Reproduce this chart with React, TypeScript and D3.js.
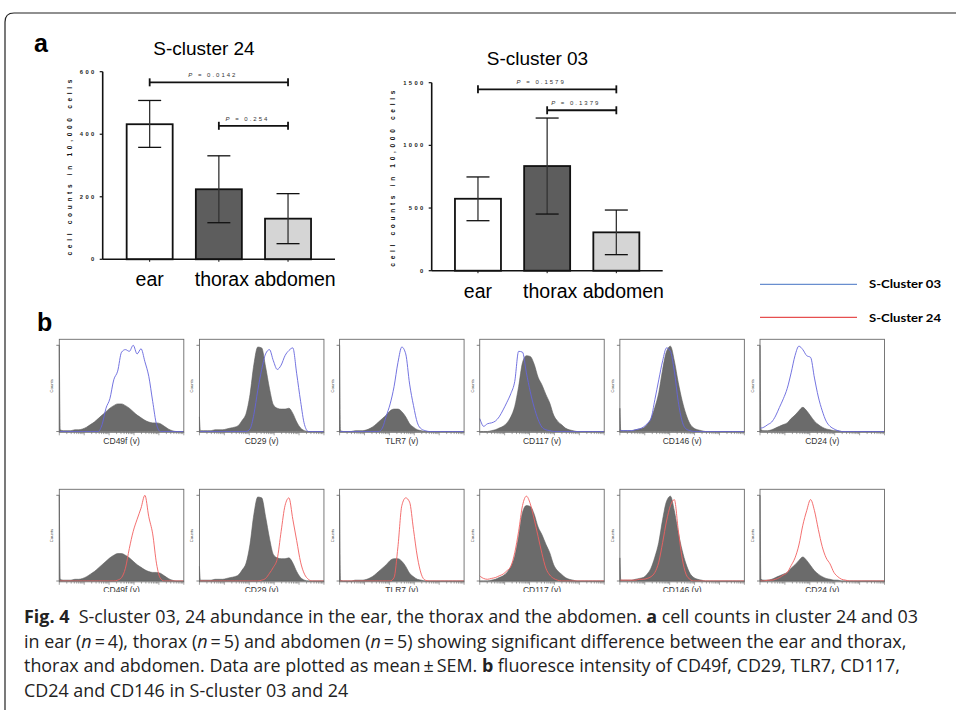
import * as d3 from "d3";

// bar charts (panel a)
const categories = ["ear", "thorax", "abdomen"];
const barFills = ["#ffffff", "#5d5d5d", "#d5d5d5"];

const c24Mean = [432, 224, 130];
const c24Upper = [508, 331, 210];
const c24Lower = [358, 117, 50];
const c24Ticks = [0, 200, 400, 600];
const c24Pairs = [["ear", "abdomen"], ["thorax", "abdomen"]];
const c24PLabels = ["0.0142", "0.254"];
const c24PLevels = [566, 427];

const c03Mean = [574, 835, 306];
const c03Upper = [748, 1218, 484];
const c03Lower = [399, 452, 128];
const c03Ticks = [0, 500, 1000, 1500];
const c03Pairs = [["ear", "abdomen"], ["thorax", "abdomen"]];
const c03PLabels = ["0.1579", "0.1379"];
const c03PLevels = [1447, 1280];

// histograms (panel b)
const markers = ["CD49f", "CD29", "TLR7", "CD117", "CD146", "CD24"];
const channels = [0, 2, 8, 16, 24, 32, 40, 48, 56, 64, 72, 80, 88, 96, 104, 112, 120, 128, 136, 144, 152, 160, 168, 176, 184, 192, 200, 208, 216, 224, 232, 240, 248, 256];
const logTickValues = [1, 2, 3, 4, 5, 6, 7, 8, 9, 10, 20, 30, 40, 50, 60, 70, 80, 90, 100, 200, 300, 400, 500, 600, 700, 800, 900, 1000, 2000, 3000, 4000, 5000, 6000, 7000, 8000, 9000, 10000, 20000, 30000, 40000, 50000, 60000, 70000, 80000, 90000, 100000];

const greyCD49f = [100, 2, 1, 1, 1, 2, 2, 3, 5, 8, 11, 15, 19, 23, 27, 30, 32, 32, 30, 27, 23, 19, 16, 13, 11, 10, 10, 9, 6, 3, 1, 0, 0, 0];
const greyCD29 = [17, 1, 1, 1, 1, 2, 2, 2, 3, 4, 5, 7, 13, 21, 43, 78, 98, 97, 75, 50, 31, 27, 26, 26, 27, 21, 11, 4, 1, 0, 0, 0, 0, 0];
const greyTLR7 = [100, 1, 0, 0, 0, 1, 1, 1, 2, 4, 7, 11, 15, 19, 24, 26, 26, 23, 17, 9, 5, 2, 1, 0, 0, 0, 0, 0, 0, 0, 0, 0, 0, 0];
const greyCD117 = [0, 0, 0, 0, 1, 2, 4, 6, 10, 17, 29, 52, 80, 88, 87, 78, 63, 54, 43, 33, 19, 12, 8, 4, 2, 1, 0, 0, 0, 0, 0, 0, 0, 0];
const greyCD146 = [27, 1, 1, 1, 1, 2, 3, 4, 8, 15, 28, 45, 72, 93, 99, 82, 57, 36, 20, 9, 4, 2, 1, 0, 0, 0, 0, 0, 0, 0, 0, 0, 0, 0];
const greyCD24 = [100, 2, 1, 1, 2, 4, 6, 8, 10, 15, 19, 24, 28, 24, 18, 12, 8, 5, 3, 2, 1, 1, 0, 0, 0, 0, 0, 0, 0, 0, 0, 0, 0, 0];

const blueCD49f = [0, 0, 0, 0, 0, 0, 0, 0, 0, 0, 0, 0, 8, 27, 38, 60, 70, 92, 95, 93, 100, 90, 96, 81, 64, 35, 8, 0, 0, 0, 0, 0, 0, 0];
const blueCD29 = [0, 0, 0, 0, 0, 0, 0, 0, 0, 0, 0, 0, 0, 0, 3, 20, 48, 72, 90, 95, 82, 72, 77, 88, 94, 97, 67, 35, 8, 0, 0, 0, 0, 0];
const blueTLR7 = [0, 0, 0, 0, 0, 0, 0, 0, 0, 0, 0, 0, 4, 18, 32, 52, 80, 98, 90, 55, 30, 10, 3, 1, 0, 0, 0, 0, 0, 0, 0, 0, 0, 0];
const blueCD117 = [15, 12, 6, 9, 10, 12, 17, 25, 34, 44, 58, 93, 92, 68, 46, 28, 14, 5, 2, 1, 0, 0, 0, 0, 0, 0, 0, 0, 0, 0, 0, 0, 0, 0];
const blueCD146 = [2, 1, 1, 1, 1, 2, 3, 5, 9, 15, 37, 60, 82, 97, 93, 70, 35, 12, 3, 1, 0, 0, 0, 0, 0, 0, 0, 0, 0, 0, 0, 0, 0, 0];
const blueCD24 = [4, 4, 5, 8, 11, 18, 28, 38, 50, 68, 88, 99, 95, 88, 86, 62, 40, 24, 12, 6, 3, 1, 0, 0, 0, 0, 0, 0, 0, 0, 0, 0, 0, 0];

const redCD49f = [0, 0, 0, 0, 0, 0, 0, 0, 0, 0, 0, 0, 0, 0, 0, 0, 1, 4, 15, 38, 58, 72, 85, 100, 75, 55, 20, 3, 0, 0, 0, 0, 0, 0];
const redCD29 = [0, 0, 0, 0, 0, 0, 0, 0, 0, 0, 0, 0, 0, 0, 0, 0, 0, 1, 3, 9, 16, 26, 58, 88, 97, 72, 47, 22, 8, 2, 0, 0, 0, 0];
const redTLR7 = [0, 0, 0, 0, 0, 0, 0, 0, 0, 0, 0, 0, 0, 0, 0, 4, 40, 88, 97, 92, 60, 28, 8, 1, 0, 0, 0, 0, 0, 0, 0, 0, 0, 0];
const redCD117 = [6, 5, 3, 2, 3, 4, 6, 8, 12, 17, 33, 58, 88, 99, 90, 72, 52, 32, 15, 7, 3, 1, 0, 0, 0, 0, 0, 0, 0, 0, 0, 0, 0, 0];
const redCD146 = [1, 1, 1, 1, 1, 1, 2, 2, 3, 5, 10, 22, 45, 70, 88, 95, 60, 27, 8, 2, 0, 0, 0, 0, 0, 0, 0, 0, 0, 0, 0, 0, 0, 0];
const redCD24 = [0, 0, 0, 1, 1, 2, 4, 7, 10, 18, 27, 42, 65, 82, 95, 82, 60, 40, 27, 20, 10, 5, 2, 1, 0, 0, 0, 0, 0, 0, 0, 0, 0, 0];

const greys = [greyCD49f, greyCD29, greyTLR7, greyCD117, greyCD146, greyCD24];
const blues = [blueCD49f, blueCD29, blueTLR7, blueCD117, blueCD146, blueCD24];
const reds = [redCD49f, redCD29, redTLR7, redCD117, redCD146, redCD24];

const legendLabels = ["S-Cluster 03", "S-Cluster 24"];
const legendColors = ["#4472c4", "#e02424"];

const sans = "'Liberation Sans', Arial, sans-serif";

function BarChart(props: any) {
  const { title, mean, upper, lower, ticks, pairs, pLabels, pLevels, axisX, axisEnd, yTop, yBottom, band0, band1, titleX, titleY, ylabX } = props;
  const y = d3.scaleLinear().domain([0, ticks[ticks.length - 1]]).range([yBottom, yTop]);
  const x = d3.scaleBand().domain(categories).range([band0, band1]).paddingInner(0.335).paddingOuter(0.17);
  const bw = x.bandwidth();
  const cx = (c: string) => (x(c) as number) + bw / 2;
  const labelShift = [0, 3, 7];

  return (
    <g>
      <text x={titleX} y={titleY} fontSize={19} textAnchor="middle" fontFamily={sans}>{title}</text>
      <text
        transform={`translate(${ylabX},${(yTop + yBottom) / 2 + 2}) rotate(-90)`}
        fontSize={6.5}
        fontWeight="bold"
        textAnchor="middle"
        textLength={176}
        lengthAdjust="spacing"
        fontFamily={sans}
        fill="#111"
      >
        cell counts in 10,000 cells
      </text>
      {categories.map((c, i) => (
        <g key={c}>
          <rect x={x(c)} y={y(mean[i])} width={bw} height={yBottom - y(mean[i])} fill={barFills[i]} stroke="#111" strokeWidth={1.8} />
          <line x1={cx(c)} x2={cx(c)} y1={y(upper[i])} y2={y(lower[i])} stroke="#333" strokeWidth={1.3} />
          <line x1={cx(c) - bw / 4} x2={cx(c) + bw / 4} y1={y(upper[i])} y2={y(upper[i])} stroke="#111" strokeWidth={1.3} />
          <line x1={cx(c) - bw / 4} x2={cx(c) + bw / 4} y1={y(lower[i])} y2={y(lower[i])} stroke="#111" strokeWidth={1.3} />
          <line x1={cx(c)} x2={cx(c)} y1={yBottom} y2={yBottom + 2.5} stroke="#111" strokeWidth={1} />
          <text x={cx(c) + labelShift[i]} y={yBottom + 27} fontSize={19.5} textAnchor="middle" fontFamily={sans}>{c}</text>
        </g>
      ))}
      <line x1={axisX} x2={axisX} y1={yTop} y2={yBottom} stroke="#111" strokeWidth={1.6} />
      <line x1={axisX} x2={axisEnd} y1={yBottom} y2={yBottom} stroke="#111" strokeWidth={1.6} />
      {ticks.map((t: number) => (
        <g key={t}>
          <line x1={axisX - 3} x2={axisX} y1={y(t)} y2={y(t)} stroke="#111" strokeWidth={1.2} />
          <text x={axisX - 6} y={y(t)} dy="0.35em" fontSize={5.8} letterSpacing={2.4} textAnchor="end" fontWeight="bold" fontFamily={sans} fill="#222">{t}</text>
        </g>
      ))}
      {pairs.map((p: string[], i: number) => {
        const x1 = cx(p[0]);
        const x2 = cx(p[1]);
        const yy = y(pLevels[i]);
        return (
          <g key={i}>
            <line x1={x1} x2={x2} y1={yy} y2={yy} stroke="#111" strokeWidth={1.8} />
            <line x1={x1} x2={x1} y1={yy - 4} y2={yy + 4} stroke="#111" strokeWidth={1.8} />
            <line x1={x2} x2={x2} y1={yy - 4} y2={yy + 4} stroke="#111" strokeWidth={1.8} />
            <text x={(x1 + x2) / 2 - 6} y={yy - 5} fontSize={6} letterSpacing={2} textAnchor="middle" fontFamily={sans} fill="#333">
              <tspan fontStyle="italic">P</tspan> = {pLabels[i]}
            </text>
          </g>
        );
      })}
    </g>
  );
}

function Histogram(props: any) {
  const { x0, y0, w, h, marker, grey, line, color } = props;
  const xs = d3.scaleLinear().domain([0, 256]).range([x0, x0 + w]);
  const xl = d3.scaleLog().domain([1, 100000]).range([x0, x0 + w]);
  const ys = d3.scaleLinear().domain([0, 100]).range([y0 + h - 0.8, y0 + 6]);
  const area = d3
    .area<number>()
    .x((_, i) => xs(channels[i]))
    .y0(ys(0))
    .y1((d) => ys(d))
    .curve(d3.curveMonotoneX);
  const path = d3
    .line<number>()
    .x((_, i) => xs(channels[i]))
    .y((d) => ys(d))
    .curve(d3.curveMonotoneX);
  return (
    <g>
      <path d={area(grey) as string} fill="#6b6b6b" stroke="#5e5e5e" strokeWidth={0.6} />
      <path d={path(line) as string} fill="none" stroke={color} strokeWidth={0.9} />
      <rect x={x0} y={y0} width={w} height={h} fill="none" stroke="#6a6a6a" strokeWidth={0.9} />
      {[0, 100].map((t) => (
        <line key={t} x1={x0 - 3} x2={x0} y1={ys(t)} y2={ys(t)} stroke="#666" strokeWidth={0.8} />
      ))}
      {logTickValues.map((v) => {
        const major = Math.abs(Math.log10(v) - Math.round(Math.log10(v))) < 1e-9;
        return <line key={v} x1={xl(v)} x2={xl(v)} y1={y0 + h} y2={y0 + h + (major ? 3 : 1.8)} stroke="#666" strokeWidth={0.6} />;
      })}
      <text transform={`translate(${x0 - 6},${y0 + h / 2}) rotate(-90)`} fontSize={4.2} textAnchor="middle" fontFamily={sans} fill="#444">Counts</text>
      <text x={x0 + w / 2} y={y0 + h + 11.5} fontSize={8.5} textAnchor="middle" fontFamily={sans} fill="#333">{marker} (v)</text>
    </g>
  );
}

export default function App() {
  const panelX = d3.scaleLinear().domain([0, 5]).range([59.3, 760]);
  return (
    <svg width={956} height={710} style={{ position: "absolute", left: 0, top: 0, background: "#fff" }}>
      <defs>
        <clipPath id="histClip">
          <rect x={0} y={330} width={956} height={262} />
        </clipPath>
      </defs>
      <path d="M5,710 V22 Q5,13 14,13 H956" fill="none" stroke="#222" strokeWidth={1.2} />
      <text x={34} y={52} fontSize={25} fontWeight="bold" fontFamily={sans}>a</text>
      <BarChart
        title="S-cluster 24"
        mean={c24Mean}
        upper={c24Upper}
        lower={c24Lower}
        ticks={c24Ticks}
        pairs={c24Pairs}
        pLabels={c24PLabels}
        pLevels={c24PLevels}
        axisX={102.7}
        axisEnd={335}
        yTop={71.7}
        yBottom={259.3}
        band0={114.9}
        band1={322.8}
        titleX={204}
        titleY={55}
        ylabX={72}
      />
      <BarChart
        title="S-cluster 03"
        mean={c03Mean}
        upper={c03Upper}
        lower={c03Lower}
        ticks={c03Ticks}
        pairs={c03Pairs}
        pLabels={c03PLabels}
        pLevels={c03PLevels}
        axisX={431.7}
        axisEnd={662.7}
        yTop={82.7}
        yBottom={270.7}
        band0={443.2}
        band1={651.1}
        titleX={537.5}
        titleY={65}
        ylabX={395}
      />
      {legendLabels.map((l, i) => (
        <g key={l}>
          <line x1={760} x2={857} y1={284.3 + i * 33} y2={284.3 + i * 33} stroke={legendColors[i]} strokeWidth={1} />
          <text x={869} y={288 + i * 33.5} fontSize={12} fontWeight="bold" fontFamily="Lato, 'Open Sans', sans-serif" textLength={72} lengthAdjust="spacingAndGlyphs">{l}</text>
        </g>
      ))}
      <text x={37} y={331} fontSize={25} fontWeight="bold" fontFamily={sans}>b</text>
      <g clipPath="url(#histClip)">
        {markers.map((m, i) => (
          <Histogram key={"r1" + m} x0={panelX(i)} y0={339.3} w={124.5} h={93} marker={m} grey={greys[i]} line={blues[i]} color="#6464dc" />
        ))}
        {markers.map((m, i) => (
          <Histogram key={"r2" + m} x0={panelX(i)} y0={489.3} w={124.5} h={92.5} marker={m} grey={greys[i]} line={reds[i]} color="#f26060" />
        ))}
      </g>
      <g fontFamily="'Open Sans', 'Noto Sans', sans-serif" fontSize={17.9} fill="#222">
        <text x={24} y={622.7}>
          <tspan fontWeight="bold">Fig. 4</tspan>{"\u00a0\u00a0"}S-cluster 03, 24 abundance in the ear, the thorax and the abdomen. <tspan fontWeight="bold">a</tspan> cell counts in cluster 24 and 03
        </text>
        <text x={24} y={647.5}>
          in ear (<tspan fontStyle="italic">n</tspan>{"\u2009=\u2009"}4), thorax (<tspan fontStyle="italic">n</tspan>{"\u2009=\u2009"}5) and abdomen (<tspan fontStyle="italic">n</tspan>{"\u2009=\u2009"}5) showing significant difference between the ear and thorax,
        </text>
        <text x={24} y={672.3}>
          thorax and abdomen. Data are plotted as mean{"\u2009±\u2009"}SEM. <tspan fontWeight="bold">b</tspan> fluoresce intensity of CD49f, CD29, TLR7, CD117,
        </text>
        <text x={24} y={697}>CD24 and CD146 in S-cluster 03 and 24</text>
      </g>
    </svg>
  );
}
